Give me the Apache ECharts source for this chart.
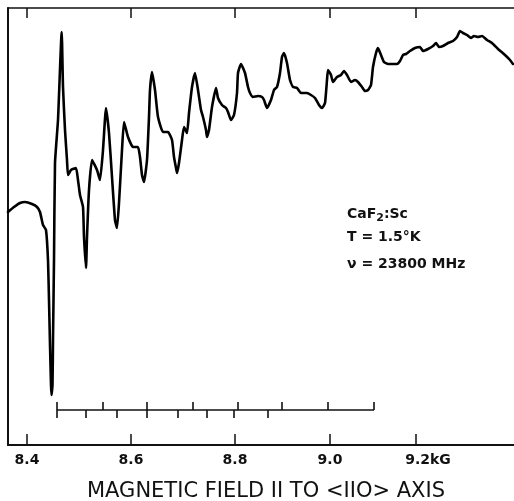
<!DOCTYPE html>
<html>
<head>
<meta charset="utf-8">
<script src="https://cdn.jsdelivr.net/npm/echarts@6/dist/echarts.min.js"></script>
<style>
    html, body { margin: 0; background: #fff; }
    #chart { width: 514px; height: 501px; }
</style>
</head>
<body>
<div id="chart"></div>
<script>
// position along the chart paper (the field sweep of the recording is not linear)
var sweep = [0, 6, 12, 17, 24, 29, 32, 35, 38, 40, 41, 42, 43, 43.5, 44.5, 45, 46, 47, 50, 53.7,
    55, 57, 59, 60, 63, 68, 70, 72, 75, 76, 78, 79, 81, 84, 89, 92, 95, 98, 101, 104,
    107, 109, 111, 114, 116, 120, 125, 130, 132, 134, 136, 139, 141, 142, 144, 147, 150, 155, 160, 164,
    166, 168, 169, 171, 174, 176, 179, 181, 184, 187, 190, 193, 195, 198, 199, 201, 204, 208, 210, 214,
    218, 220, 223, 226, 229, 230, 233, 237, 240, 242, 245, 250, 254, 256, 259, 263, 266, 269, 272, 274,
    276, 279, 282, 285, 289, 293, 299, 303, 307, 311, 314, 317, 319, 320, 323, 325, 329, 333, 336, 339,
    343, 347, 350, 354, 357, 360, 363, 365, 368, 370, 373, 376, 380, 389, 392, 395, 398, 402, 407, 412,
    415, 420, 425, 428, 431, 435, 440, 445, 449, 452, 455, 459, 463, 466, 470, 474, 479, 484, 490, 497,
    502, 505];
// recorder signal (arbitrary units)
var signal = [233, 238, 242, 243, 241, 238, 233, 220, 215, 185, 145, 100, 60, 50, 60, 105, 185, 282, 325, 413,
    358, 315, 285, 270, 275, 277, 265, 250, 238, 208, 177, 208, 255, 285, 275, 265, 295, 337, 312, 268,
    225, 217, 242, 295, 323, 308, 298, 298, 288, 270, 263, 285, 328, 355, 373, 355, 328, 313, 313, 305,
    288, 277, 272, 282, 305, 318, 312, 332, 358, 372, 355, 335, 328, 315, 308, 315, 338, 357, 347, 340,
    337, 333, 325, 330, 352, 372, 381, 372, 358, 352, 348, 349, 348, 345, 337, 345, 355, 358, 372, 388,
    392, 382, 365, 358, 357, 352, 352, 350, 347, 340, 337, 342, 365, 375, 370, 363, 368, 370, 374, 370,
    363, 365, 363, 358, 354, 355, 360, 378, 392, 397, 390, 383, 381, 381, 384, 390, 391, 394, 397, 398,
    394, 396, 399, 402, 398, 399, 402, 404, 408, 414, 412, 410, 407, 409, 408, 409, 405, 402, 396, 390,
    385, 381];

// field scale of the paper
var tickSweep = [19, 123, 227, 322, 408];
var tickLabels = ['8.4', '8.6', '8.8', '9.0', '9.2kG'];

// field marker bar under the trace
var markerLevel = 35;
var markerUp = [49, 95, 139, 185, 230, 274, 320, 366];
var markerDown = [49, 78, 109, 139, 170, 199, 226, 260];

var chart = echarts.init(document.getElementById('chart'));

var traceData = sweep.map(function (x, i) { return [x, signal[i]]; });

var markerLines = [{ coords: [[markerUp[0], markerLevel], [markerUp[markerUp.length - 1], markerLevel]] }];
markerUp.forEach(function (x) {
    markerLines.push({ coords: [[x, markerLevel], [x, markerLevel + 8]] });
});
markerDown.forEach(function (x) {
    markerLines.push({ coords: [[x, markerLevel], [x, markerLevel - 8]] });
});

var font = 'DejaVu Sans';

chart.setOption({
    animation: false,
    backgroundColor: '#fff',
    grid: { left: 8, right: 0, top: 8, bottom: 56 },
    title: [
        {
            text: 'MAGNETIC FIELD II TO <IIO> AXIS',
            left: 82, top: 476,
            textStyle: { fontFamily: font, fontSize: 21, fontWeight: 'normal', color: '#111' }
        },
        {
            text: '{a|CaF}{s|2}{a|:Sc}',
            left: 342, top: 200,
            textStyle: {
                rich: {
                    a: { fontFamily: font, fontSize: 14, fontWeight: 'bold', color: '#111', lineHeight: 18 },
                    s: { fontFamily: font, fontSize: 11, fontWeight: 'bold', color: '#111', lineHeight: 18, padding: [8, 0, 0, 0] }
                }
            }
        },
        {
            text: 'T = 1.5°K',
            left: 342, top: 225,
            textStyle: { fontFamily: font, fontSize: 14, fontWeight: 'bold', color: '#111' }
        },
        {
            text: 'ν = 23800 MHz',
            left: 342, top: 252,
            textStyle: { fontFamily: font, fontSize: 14, fontWeight: 'bold', color: '#111' }
        }
    ],
    xAxis: [
        {
            type: 'value',
            position: 'bottom',
            min: 0,
            max: 506,
            axisLine: { lineStyle: { color: '#111', width: 2 } },
            axisTick: { customValues: tickSweep, inside: true, length: 11, lineStyle: { color: '#111', width: 1.5 } },
            axisLabel: {
                customValues: tickSweep,
                margin: 8,
                fontFamily: font,
                fontSize: 14,
                fontWeight: 'bold',
                color: '#111',
                formatter: function (v) {
                    var i = tickSweep.indexOf(v);
                    if (i === tickLabels.length - 1) return '{k|' + tickLabels[i] + '}';
                    return i >= 0 ? tickLabels[i] : '';
                },
                rich: {
                    k: { fontFamily: font, fontSize: 14, fontWeight: 'bold', color: '#111', padding: [0, 0, 0, 24] }
                }
            },
            splitLine: { show: false }
        },
        {
            type: 'value',
            position: 'top',
            min: 0,
            max: 506,
            axisLine: { lineStyle: { color: '#111', width: 1.5 } },
            axisTick: { customValues: tickSweep, inside: true, length: 10, lineStyle: { color: '#111', width: 1.5 } },
            axisLabel: { show: false },
            splitLine: { show: false }
        }
    ],
    yAxis: {
        type: 'value',
        min: 0,
        max: 437,
        axisLine: { show: true, lineStyle: { color: '#111', width: 2 } },
        axisTick: { show: false },
        axisLabel: { show: false },
        splitLine: { show: false }
    },
    series: [
        {
            type: 'line',
            data: traceData,
            showSymbol: false,
            smooth: 0.15,
            lineStyle: { color: '#000', width: 2.6, join: 'round', cap: 'round' }
        },
        {
            type: 'lines',
            coordinateSystem: 'cartesian2d',
            data: markerLines,
            lineStyle: { color: '#111', width: 1.6, opacity: 1 }
        }
    ]
});
</script>
</body>
</html>
